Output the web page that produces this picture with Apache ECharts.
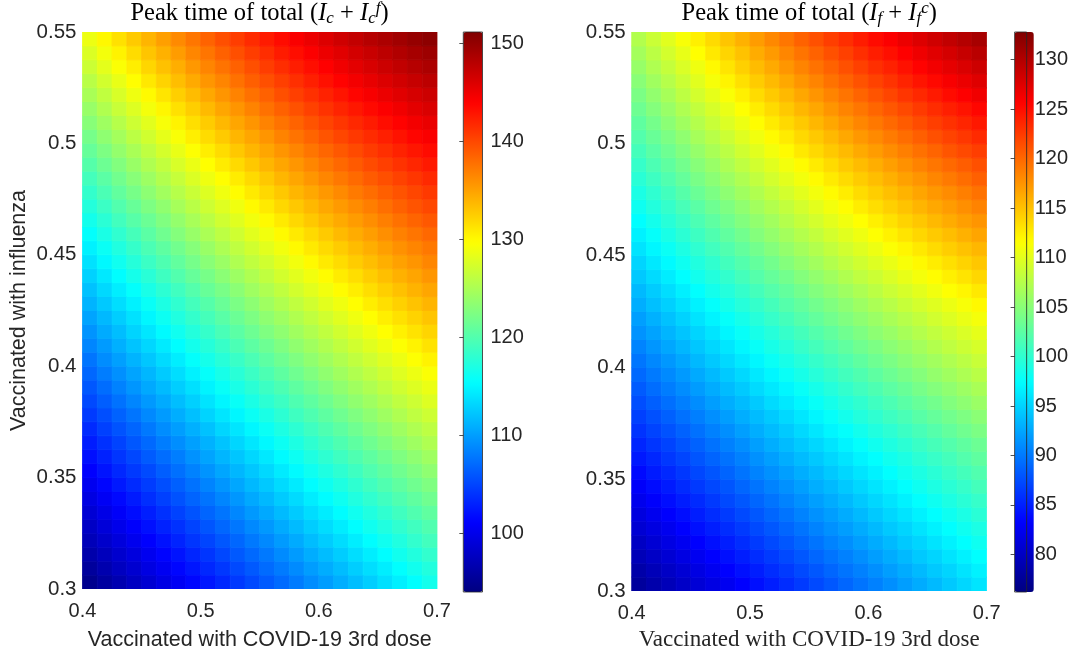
<!DOCTYPE html>
<html>
<head>
<meta charset="utf-8">
<script src="https://cdn.jsdelivr.net/npm/echarts@6/dist/echarts.min.js"></script>
<style>
html,body{margin:0;padding:0;background:#ffffff;}
#chart{width:1071px;height:656px;}
</style>
</head>
<body>
<div id="chart"></div>
<script>
// ---- data (cell centres and values) ----
const xCenters = [0.40625, 0.41875, 0.43125, 0.44375, 0.45625, 0.46875, 0.48125, 0.49375, 0.50625, 0.51875, 0.53125, 0.54375,
                  0.55625, 0.56875, 0.58125, 0.59375, 0.60625, 0.61875, 0.63125, 0.64375, 0.65625, 0.66875, 0.68125, 0.69375];
const yCenters = [0.303125, 0.309375, 0.315625, 0.321875, 0.328125, 0.334375, 0.340625, 0.346875, 0.353125, 0.359375,
                  0.365625, 0.371875, 0.378125, 0.384375, 0.390625, 0.396875, 0.403125, 0.409375, 0.415625, 0.421875,
                  0.428125, 0.434375, 0.440625, 0.446875, 0.453125, 0.459375, 0.465625, 0.471875, 0.478125, 0.484375,
                  0.490625, 0.496875, 0.503125, 0.509375, 0.515625, 0.521875, 0.528125, 0.534375, 0.540625, 0.546875];
const xTicks = [0.4, 0.5, 0.6, 0.7];
const yTicks = [0.3, 0.35, 0.4, 0.45, 0.5, 0.55];
const leftBarTicks = [100, 110, 120, 130, 140, 150];
const rightBarTicks = [80, 85, 90, 95, 100, 105, 110, 115, 120, 125, 130];
const leftRange = [94.0, 151.15];
const rightRange = [76.2, 132.8];

// one array per x column, values from bottom (y=0.3) to top (y=0.55)
const leftValues = [
  [94.8, 95.6, 96.4, 97.2, 97.9, 98.7, 99.5, 100.3, 101.1, 101.9, 102.7, 103.5, 104.4, 105.2, 106.0, 106.9, 107.7, 108.6, 109.4, 110.3, 111.2, 112.0, 112.9, 113.8, 114.7, 115.6, 116.5, 117.4, 118.3, 119.2, 120.2, 121.1, 122.0, 123.0, 123.9, 124.9, 125.8, 126.8, 127.7, 128.7],
  [95.8, 96.6, 97.4, 98.2, 99.0, 99.8, 100.6, 101.4, 102.2, 103.0, 103.8, 104.7, 105.5, 106.4, 107.2, 108.1, 109.0, 109.8, 110.7, 111.5, 112.4, 113.3, 114.2, 115.1, 116.0, 116.9, 117.8, 118.7, 119.6, 120.5, 121.5, 122.4, 123.4, 124.3, 125.3, 126.2, 127.2, 128.2, 129.1, 130.1],
  [96.7, 97.6, 98.4, 99.2, 100.0, 100.8, 101.6, 102.5, 103.3, 104.1, 104.9, 105.8, 106.6, 107.5, 108.4, 109.2, 110.1, 111.0, 111.8, 112.7, 113.6, 114.5, 115.4, 116.3, 117.2, 118.1, 119.1, 120.0, 120.9, 121.8, 122.7, 123.7, 124.6, 125.6, 126.6, 127.5, 128.5, 129.5, 130.4, 131.4],
  [97.7, 98.5, 99.3, 100.2, 101.0, 101.8, 102.6, 103.5, 104.3, 105.1, 106.0, 106.8, 107.7, 108.6, 109.5, 110.3, 111.2, 112.1, 113.0, 113.8, 114.7, 115.6, 116.6, 117.5, 118.4, 119.3, 120.3, 121.2, 122.1, 123.0, 124.0, 124.9, 125.9, 126.9, 127.8, 128.8, 129.8, 130.7, 131.7, 132.7],
  [98.6, 99.5, 100.3, 101.1, 102.0, 102.8, 103.7, 104.5, 105.3, 106.2, 107.0, 107.9, 108.8, 109.7, 110.6, 111.4, 112.3, 113.2, 114.1, 115.0, 115.9, 116.8, 117.7, 118.7, 119.6, 120.5, 121.4, 122.4, 123.3, 124.2, 125.2, 126.1, 127.1, 128.1, 129.1, 130.0, 131.0, 132.0, 133.0, 133.9],
  [99.6, 100.4, 101.3, 102.1, 103.0, 103.8, 104.7, 105.5, 106.4, 107.2, 108.1, 109.0, 109.8, 110.7, 111.6, 112.5, 113.4, 114.3, 115.2, 116.1, 117.0, 117.9, 118.9, 119.8, 120.7, 121.7, 122.6, 123.5, 124.5, 125.4, 126.3, 127.3, 128.3, 129.3, 130.2, 131.2, 132.2, 133.2, 134.1, 135.1],
  [100.5, 101.4, 102.2, 103.1, 103.9, 104.8, 105.7, 106.5, 107.4, 108.2, 109.1, 110.0, 110.9, 111.8, 112.7, 113.6, 114.5, 115.4, 116.3, 117.2, 118.1, 119.0, 120.0, 120.9, 121.8, 122.8, 123.7, 124.7, 125.6, 126.5, 127.5, 128.5, 129.4, 130.4, 131.4, 132.4, 133.4, 134.3, 135.3, 136.3],
  [101.5, 102.3, 103.2, 104.1, 104.9, 105.8, 106.7, 107.5, 108.4, 109.3, 110.1, 111.0, 111.9, 112.8, 113.7, 114.7, 115.6, 116.5, 117.4, 118.3, 119.2, 120.1, 121.1, 122.0, 122.9, 123.9, 124.8, 125.8, 126.7, 127.7, 128.6, 129.6, 130.6, 131.5, 132.5, 133.5, 134.5, 135.5, 136.5, 137.4],
  [102.4, 103.3, 104.1, 105.0, 105.9, 106.8, 107.6, 108.5, 109.4, 110.3, 111.1, 112.0, 113.0, 113.9, 114.8, 115.7, 116.6, 117.5, 118.4, 119.3, 120.2, 121.2, 122.1, 123.1, 124.0, 125.0, 125.9, 126.9, 127.8, 128.8, 129.7, 130.7, 131.7, 132.6, 133.6, 134.6, 135.6, 136.6, 137.5, 138.5],
  [103.3, 104.2, 105.1, 106.0, 106.9, 107.7, 108.6, 109.5, 110.4, 111.3, 112.1, 113.1, 114.0, 114.9, 115.8, 116.7, 117.6, 118.5, 119.5, 120.4, 121.3, 122.2, 123.2, 124.1, 125.1, 126.0, 127.0, 127.9, 128.9, 129.8, 130.8, 131.7, 132.7, 133.7, 134.7, 135.7, 136.6, 137.6, 138.6, 139.6],
  [104.3, 105.2, 106.1, 106.9, 107.8, 108.7, 109.6, 110.5, 111.4, 112.2, 113.1, 114.0, 115.0, 115.9, 116.8, 117.7, 118.6, 119.6, 120.5, 121.4, 122.3, 123.2, 124.2, 125.2, 126.1, 127.0, 128.0, 128.9, 129.9, 130.8, 131.8, 132.8, 133.8, 134.7, 135.7, 136.7, 137.7, 138.6, 139.6, 140.6],
  [105.2, 106.1, 107.0, 107.9, 108.8, 109.7, 110.6, 111.5, 112.3, 113.2, 114.1, 115.0, 116.0, 116.9, 117.8, 118.7, 119.6, 120.6, 121.5, 122.4, 123.3, 124.3, 125.2, 126.2, 127.1, 128.1, 129.0, 130.0, 130.9, 131.8, 132.8, 133.8, 134.7, 135.7, 136.7, 137.7, 138.7, 139.6, 140.6, 141.6],
  [106.2, 107.1, 107.9, 108.8, 109.7, 110.6, 111.5, 112.4, 113.3, 114.2, 115.1, 116.0, 116.9, 117.9, 118.8, 119.7, 120.6, 121.5, 122.5, 123.4, 124.3, 125.2, 126.2, 127.1, 128.1, 129.0, 130.0, 130.9, 131.9, 132.8, 133.8, 134.7, 135.7, 136.7, 137.7, 138.6, 139.6, 140.6, 141.5, 142.5],
  [107.1, 108.0, 108.9, 109.8, 110.7, 111.6, 112.5, 113.4, 114.3, 115.2, 116.1, 117.0, 117.9, 118.8, 119.7, 120.7, 121.6, 122.5, 123.4, 124.3, 125.3, 126.2, 127.2, 128.1, 129.0, 130.0, 130.9, 131.9, 132.8, 133.8, 134.7, 135.7, 136.7, 137.6, 138.6, 139.6, 140.5, 141.5, 142.5, 143.4],
  [108.0, 108.9, 109.8, 110.7, 111.6, 112.5, 113.4, 114.3, 115.2, 116.1, 117.0, 117.9, 118.9, 119.8, 120.7, 121.6, 122.5, 123.5, 124.4, 125.3, 126.2, 127.2, 128.1, 129.0, 130.0, 130.9, 131.9, 132.8, 133.8, 134.7, 135.6, 136.6, 137.6, 138.5, 139.5, 140.5, 141.4, 142.4, 143.3, 144.3],
  [109.0, 109.9, 110.8, 111.7, 112.6, 113.5, 114.4, 115.3, 116.2, 117.1, 118.0, 118.9, 119.8, 120.7, 121.6, 122.6, 123.5, 124.4, 125.3, 126.2, 127.1, 128.1, 129.0, 130.0, 130.9, 131.8, 132.8, 133.7, 134.6, 135.6, 136.5, 137.5, 138.4, 139.4, 140.4, 141.3, 142.3, 143.2, 144.2, 145.1],
  [109.9, 110.8, 111.7, 112.6, 113.5, 114.4, 115.3, 116.2, 117.1, 118.0, 118.9, 119.8, 120.7, 121.6, 122.6, 123.5, 124.4, 125.3, 126.2, 127.1, 128.1, 129.0, 129.9, 130.9, 131.8, 132.7, 133.7, 134.6, 135.5, 136.5, 137.4, 138.3, 139.3, 140.2, 141.2, 142.1, 143.1, 144.0, 145.0, 145.9],
  [110.9, 111.7, 112.6, 113.5, 114.4, 115.3, 116.2, 117.1, 118.0, 118.9, 119.8, 120.7, 121.6, 122.6, 123.5, 124.4, 125.3, 126.2, 127.1, 128.0, 128.9, 129.9, 130.8, 131.7, 132.6, 133.6, 134.5, 135.4, 136.3, 137.3, 138.2, 139.1, 140.1, 141.0, 142.0, 142.9, 143.9, 144.8, 145.7, 146.7],
  [111.8, 112.7, 113.6, 114.5, 115.4, 116.3, 117.2, 118.0, 118.9, 119.8, 120.7, 121.6, 122.5, 123.5, 124.4, 125.3, 126.2, 127.1, 128.0, 128.9, 129.8, 130.7, 131.6, 132.6, 133.5, 134.4, 135.3, 136.2, 137.2, 138.1, 139.0, 139.9, 140.9, 141.8, 142.7, 143.7, 144.6, 145.5, 146.5, 147.4],
  [112.7, 113.6, 114.5, 115.4, 116.3, 117.2, 118.1, 119.0, 119.9, 120.7, 121.6, 122.5, 123.4, 124.3, 125.2, 126.1, 127.0, 128.0, 128.9, 129.8, 130.7, 131.6, 132.5, 133.4, 134.3, 135.2, 136.1, 137.0, 137.9, 138.9, 139.8, 140.7, 141.6, 142.5, 143.5, 144.4, 145.3, 146.2, 147.1, 148.1],
  [113.7, 114.5, 115.4, 116.3, 117.2, 118.1, 119.0, 119.9, 120.8, 121.6, 122.5, 123.4, 124.3, 125.2, 126.1, 127.0, 127.9, 128.8, 129.7, 130.6, 131.5, 132.4, 133.3, 134.2, 135.1, 136.0, 136.9, 137.8, 138.7, 139.6, 140.5, 141.4, 142.3, 143.3, 144.2, 145.1, 146.0, 146.9, 147.8, 148.7],
  [114.6, 115.5, 116.4, 117.2, 118.1, 119.0, 119.9, 120.8, 121.7, 122.5, 123.4, 124.3, 125.2, 126.1, 127.0, 127.9, 128.7, 129.6, 130.5, 131.4, 132.3, 133.2, 134.1, 135.0, 135.9, 136.8, 137.7, 138.6, 139.4, 140.3, 141.2, 142.1, 143.0, 143.9, 144.8, 145.7, 146.6, 147.5, 148.4, 149.3],
  [115.5, 116.4, 117.3, 118.2, 119.0, 119.9, 120.8, 121.7, 122.5, 123.4, 124.3, 125.2, 126.1, 126.9, 127.8, 128.7, 129.6, 130.4, 131.3, 132.2, 133.1, 134.0, 134.8, 135.7, 136.6, 137.5, 138.4, 139.3, 140.1, 141.0, 141.9, 142.8, 143.7, 144.6, 145.5, 146.3, 147.2, 148.1, 149.0, 149.9],
  [116.5, 117.3, 118.2, 119.1, 119.9, 120.8, 121.7, 122.5, 123.4, 124.3, 125.2, 126.0, 126.9, 127.8, 128.6, 129.5, 130.4, 131.3, 132.1, 133.0, 133.9, 134.7, 135.6, 136.5, 137.3, 138.2, 139.1, 140.0, 140.8, 141.7, 142.6, 143.4, 144.3, 145.2, 146.1, 146.9, 147.8, 148.7, 149.5, 150.4]
];
const rightValues = [
  [77.8, 78.5, 79.3, 80.0, 80.8, 81.5, 82.3, 83.0, 83.8, 84.6, 85.3, 86.1, 86.8, 87.6, 88.3, 89.1, 89.8, 90.6, 91.4, 92.1, 92.9, 93.6, 94.4, 95.1, 95.9, 96.7, 97.4, 98.2, 98.9, 99.7, 100.4, 101.2, 102.0, 102.7, 103.5, 104.2, 105.0, 105.8, 106.5, 107.3],
  [78.6, 79.3, 80.1, 80.9, 81.6, 82.4, 83.1, 83.9, 84.7, 85.4, 86.2, 87.0, 87.7, 88.5, 89.3, 90.0, 90.8, 91.6, 92.3, 93.1, 93.9, 94.6, 95.4, 96.2, 97.0, 97.7, 98.5, 99.3, 100.0, 100.8, 101.6, 102.4, 103.2, 103.9, 104.7, 105.5, 106.3, 107.1, 107.8, 108.6],
  [79.4, 80.1, 80.9, 81.7, 82.4, 83.2, 84.0, 84.7, 85.5, 86.3, 87.0, 87.8, 88.6, 89.4, 90.2, 90.9, 91.7, 92.5, 93.3, 94.0, 94.8, 95.6, 96.4, 97.2, 98.0, 98.8, 99.6, 100.3, 101.1, 101.9, 102.7, 103.5, 104.3, 105.1, 105.9, 106.7, 107.5, 108.3, 109.1, 109.9],
  [80.2, 80.9, 81.7, 82.5, 83.3, 84.0, 84.8, 85.6, 86.3, 87.1, 87.9, 88.7, 89.5, 90.3, 91.1, 91.8, 92.6, 93.4, 94.2, 95.0, 95.8, 96.6, 97.4, 98.2, 99.0, 99.8, 100.6, 101.4, 102.2, 103.0, 103.8, 104.6, 105.4, 106.3, 107.1, 107.9, 108.7, 109.5, 110.3, 111.2],
  [81.0, 81.7, 82.5, 83.3, 84.1, 84.9, 85.6, 86.4, 87.2, 88.0, 88.7, 89.5, 90.3, 91.1, 91.9, 92.7, 93.5, 94.3, 95.1, 95.9, 96.7, 97.5, 98.4, 99.2, 100.0, 100.8, 101.6, 102.4, 103.3, 104.1, 104.9, 105.7, 106.6, 107.4, 108.2, 109.1, 109.9, 110.7, 111.6, 112.4],
  [81.7, 82.5, 83.3, 84.1, 84.9, 85.7, 86.4, 87.2, 88.0, 88.8, 89.6, 90.4, 91.2, 92.0, 92.8, 93.6, 94.4, 95.2, 96.0, 96.8, 97.6, 98.5, 99.3, 100.1, 101.0, 101.8, 102.6, 103.5, 104.3, 105.1, 105.9, 106.8, 107.6, 108.5, 109.3, 110.2, 111.1, 111.9, 112.8, 113.6],
  [82.5, 83.3, 84.1, 84.9, 85.7, 86.5, 87.3, 88.0, 88.8, 89.6, 90.4, 91.2, 92.0, 92.9, 93.7, 94.5, 95.3, 96.1, 96.9, 97.7, 98.6, 99.4, 100.2, 101.1, 101.9, 102.8, 103.6, 104.4, 105.3, 106.1, 107.0, 107.8, 108.7, 109.6, 110.4, 111.3, 112.2, 113.0, 113.9, 114.8],
  [83.3, 84.1, 84.9, 85.7, 86.5, 87.3, 88.1, 88.9, 89.7, 90.4, 91.2, 92.1, 92.9, 93.7, 94.5, 95.3, 96.2, 97.0, 97.8, 98.6, 99.5, 100.3, 101.2, 102.0, 102.9, 103.7, 104.6, 105.4, 106.3, 107.1, 108.0, 108.9, 109.8, 110.6, 111.5, 112.4, 113.3, 114.2, 115.0, 115.9],
  [84.1, 84.9, 85.7, 86.5, 87.3, 88.1, 88.9, 89.7, 90.5, 91.3, 92.1, 92.9, 93.7, 94.5, 95.4, 96.2, 97.0, 97.8, 98.7, 99.5, 100.3, 101.2, 102.1, 102.9, 103.8, 104.7, 105.5, 106.4, 107.2, 108.1, 109.0, 109.9, 110.8, 111.7, 112.6, 113.5, 114.4, 115.3, 116.2, 117.1],
  [84.9, 85.7, 86.5, 87.3, 88.1, 88.9, 89.7, 90.5, 91.3, 92.1, 92.9, 93.7, 94.5, 95.4, 96.2, 97.0, 97.9, 98.7, 99.5, 100.4, 101.2, 102.1, 103.0, 103.8, 104.7, 105.6, 106.4, 107.3, 108.2, 109.1, 109.9, 110.9, 111.8, 112.7, 113.6, 114.5, 115.4, 116.3, 117.2, 118.2],
  [85.7, 86.5, 87.3, 88.1, 88.9, 89.7, 90.5, 91.3, 92.1, 92.9, 93.7, 94.5, 95.3, 96.2, 97.0, 97.9, 98.7, 99.5, 100.4, 101.2, 102.1, 102.9, 103.8, 104.7, 105.6, 106.5, 107.4, 108.2, 109.1, 110.0, 110.9, 111.8, 112.7, 113.7, 114.6, 115.5, 116.4, 117.4, 118.3, 119.2],
  [86.5, 87.3, 88.1, 88.9, 89.7, 90.5, 91.3, 92.1, 92.9, 93.7, 94.5, 95.3, 96.1, 97.0, 97.8, 98.7, 99.5, 100.4, 101.2, 102.1, 102.9, 103.8, 104.7, 105.6, 106.5, 107.4, 108.3, 109.1, 110.0, 110.9, 111.8, 112.8, 113.7, 114.6, 115.6, 116.5, 117.5, 118.4, 119.3, 120.3],
  [87.3, 88.1, 88.9, 89.7, 90.5, 91.3, 92.1, 92.9, 93.6, 94.4, 95.2, 96.1, 96.9, 97.8, 98.6, 99.5, 100.3, 101.2, 102.0, 102.9, 103.7, 104.6, 105.5, 106.4, 107.3, 108.2, 109.1, 110.0, 110.9, 111.8, 112.7, 113.7, 114.6, 115.6, 116.5, 117.5, 118.4, 119.4, 120.3, 121.3],
  [88.1, 88.9, 89.7, 90.5, 91.3, 92.0, 92.8, 93.6, 94.4, 95.2, 96.0, 96.9, 97.7, 98.6, 99.4, 100.3, 101.1, 102.0, 102.8, 103.7, 104.5, 105.4, 106.3, 107.3, 108.2, 109.1, 110.0, 110.9, 111.8, 112.7, 113.6, 114.6, 115.5, 116.5, 117.5, 118.4, 119.4, 120.3, 121.3, 122.3],
  [88.9, 89.7, 90.4, 91.2, 92.0, 92.8, 93.6, 94.4, 95.2, 96.0, 96.8, 97.6, 98.5, 99.4, 100.2, 101.1, 101.9, 102.8, 103.6, 104.5, 105.3, 106.2, 107.2, 108.1, 109.0, 109.9, 110.8, 111.7, 112.6, 113.6, 114.5, 115.4, 116.4, 117.4, 118.4, 119.3, 120.3, 121.3, 122.2, 123.2],
  [89.7, 90.4, 91.2, 92.0, 92.8, 93.6, 94.4, 95.2, 96.0, 96.8, 97.6, 98.4, 99.3, 100.1, 101.0, 101.8, 102.7, 103.6, 104.4, 105.3, 106.1, 107.0, 108.0, 108.9, 109.8, 110.7, 111.6, 112.6, 113.5, 114.4, 115.3, 116.3, 117.3, 118.3, 119.2, 120.2, 121.2, 122.2, 123.2, 124.2],
  [90.4, 91.2, 92.0, 92.8, 93.6, 94.4, 95.2, 96.0, 96.7, 97.5, 98.3, 99.2, 100.0, 100.9, 101.7, 102.6, 103.5, 104.3, 105.2, 106.0, 106.9, 107.8, 108.7, 109.7, 110.6, 111.5, 112.4, 113.4, 114.3, 115.2, 116.1, 117.1, 118.1, 119.1, 120.1, 121.1, 122.1, 123.1, 124.1, 125.1],
  [91.2, 92.0, 92.8, 93.6, 94.4, 95.2, 95.9, 96.7, 97.5, 98.3, 99.1, 99.9, 100.8, 101.6, 102.5, 103.4, 104.2, 105.1, 105.9, 106.8, 107.6, 108.6, 109.5, 110.4, 111.4, 112.3, 113.2, 114.2, 115.1, 116.0, 116.9, 117.9, 118.9, 119.9, 120.9, 121.9, 122.9, 123.9, 124.9, 125.9],
  [92.0, 92.8, 93.6, 94.4, 95.1, 95.9, 96.7, 97.5, 98.3, 99.0, 99.8, 100.7, 101.5, 102.4, 103.2, 104.1, 105.0, 105.8, 106.7, 107.5, 108.4, 109.3, 110.3, 111.2, 112.1, 113.1, 114.0, 114.9, 115.8, 116.8, 117.7, 118.7, 119.7, 120.7, 121.7, 122.8, 123.8, 124.8, 125.8, 126.8],
  [92.8, 93.6, 94.4, 95.1, 95.9, 96.7, 97.5, 98.2, 99.0, 99.8, 100.6, 101.4, 102.3, 103.1, 104.0, 104.8, 105.7, 106.5, 107.4, 108.2, 109.1, 110.0, 111.0, 111.9, 112.8, 113.8, 114.7, 115.7, 116.6, 117.5, 118.5, 119.5, 120.5, 121.5, 122.5, 123.5, 124.6, 125.6, 126.6, 127.6],
  [93.6, 94.4, 95.1, 95.9, 96.7, 97.4, 98.2, 99.0, 99.7, 100.5, 101.3, 102.1, 103.0, 103.8, 104.7, 105.6, 106.4, 107.3, 108.1, 109.0, 109.8, 110.8, 111.7, 112.6, 113.6, 114.5, 115.5, 116.4, 117.3, 118.3, 119.2, 120.2, 121.3, 122.3, 123.3, 124.3, 125.3, 126.4, 127.4, 128.4],
  [94.4, 95.1, 95.9, 96.7, 97.4, 98.2, 99.0, 99.7, 100.5, 101.2, 102.0, 102.9, 103.7, 104.6, 105.4, 106.3, 107.1, 108.0, 108.8, 109.7, 110.5, 111.5, 112.4, 113.3, 114.3, 115.2, 116.2, 117.1, 118.0, 119.0, 119.9, 121.0, 122.0, 123.0, 124.0, 125.1, 126.1, 127.1, 128.1, 129.2],
  [95.2, 95.9, 96.7, 97.4, 98.2, 98.9, 99.7, 100.4, 101.2, 102.0, 102.7, 103.6, 104.4, 105.3, 106.1, 107.0, 107.8, 108.7, 109.5, 110.4, 111.2, 112.1, 113.1, 114.0, 115.0, 115.9, 116.9, 117.8, 118.7, 119.7, 120.6, 121.7, 122.7, 123.7, 124.7, 125.8, 126.8, 127.8, 128.9, 129.9],
  [96.0, 96.7, 97.4, 98.2, 98.9, 99.7, 100.4, 101.2, 101.9, 102.7, 103.4, 104.3, 105.1, 106.0, 106.8, 107.7, 108.5, 109.3, 110.2, 111.0, 111.9, 112.8, 113.8, 114.7, 115.6, 116.6, 117.5, 118.5, 119.4, 120.4, 121.3, 122.3, 123.4, 124.4, 125.4, 126.5, 127.5, 128.5, 129.6, 130.6]
];

// ---- styling ----
const jet = ['#000080', '#0000ff', '#0080ff', '#00ffff', '#80ff80', '#ffff00', '#ff8000', '#ff0000', '#800000'];
const CELL_W = 0.0125, CELL_H = 0.00625;
const SANS = 'Liberation Sans, Arial, sans-serif';
const SERIF = 'Liberation Serif, Times New Roman, serif';
const AX = '#262626';

function buildData(values) {
  const out = [];
  for (let i = 0; i < xCenters.length; i++) {
    for (let j = 0; j < yCenters.length; j++) {
      out.push([xCenters[i], yCenters[j], values[i][j]]);
    }
  }
  return out;
}

function renderCell(params, api) {
  const x = api.value(0), y = api.value(1);
  const p0 = api.coord([x - CELL_W / 2, y + CELL_H / 2]);
  const p1 = api.coord([x + CELL_W / 2, y - CELL_H / 2]);
  const c = api.visual('color');
  return {
    type: 'rect',
    shape: { x: p0[0], y: p0[1], width: p1[0] - p0[0], height: p1[1] - p0[1] },
    style: { fill: c, stroke: c, lineWidth: 0.8 }
  };
}

const grids = [
  { left: 82.5, top: 32, width: 354.5, height: 560 },
  { left: 631.7, top: 32, width: 355, height: 560 },
  { left: 463.3, top: 32, width: 19.2, height: 560, show: true, borderColor: AX, borderWidth: 0.8, backgroundColor: 'rgba(0,0,0,0)', z: 10 },
  { left: 1014.6, top: 32, width: 19.2, height: 560, show: true, borderColor: AX, borderWidth: 0.8, backgroundColor: 'rgba(0,0,0,0)', z: 10 }
];

function mainX(gridIndex, nameFont, nameGap) {
  return {
    type: 'value', gridIndex, min: 0.4, max: 0.7,
    name: 'Vaccinated with COVID-19 3rd dose', nameLocation: 'middle', nameGap,
    nameTextStyle: { fontFamily: nameFont.family, fontSize: nameFont.size, color: AX },
    axisLine: { show: false }, axisTick: { show: false }, splitLine: { show: false },
    axisLabel: { customValues: xTicks, fontFamily: SANS, fontSize: 20, color: AX, margin: 12 }
  };
}
function mainY(gridIndex, name) {
  return {
    type: 'value', gridIndex, min: 0.3, max: 0.55,
    name, nameLocation: 'middle', nameGap: 52,
    nameTextStyle: { fontFamily: SANS, fontSize: 21.5, color: AX },
    axisLine: { show: false }, axisTick: { show: false }, splitLine: { show: false },
    axisLabel: { customValues: yTicks, fontFamily: SANS, fontSize: 20.5, color: AX, margin: 6 }
  };
}
function barX(gridIndex) {
  return { type: 'value', gridIndex, min: 0, max: 1, show: false };
}
function barY(gridIndex, range, ticks) {
  return {
    type: 'value', gridIndex, min: range[0], max: range[1], position: 'right', z: 12,
    axisLine: { show: false }, splitLine: { show: false },
    axisTick: { show: true, inside: true, length: 4, customValues: ticks, lineStyle: { color: AX, width: 0.8 } },
    axisLabel: { customValues: ticks, fontFamily: SANS, fontSize: 20, color: AX, margin: 8 }
  };
}

const titleRich = {
  r: { fontFamily: SERIF, fontSize: 24.5, lineHeight: 27, color: '#000' },
  i: { fontFamily: SERIF, fontStyle: 'italic', fontSize: 24.5, lineHeight: 27, color: '#000' },
  s: { fontFamily: SERIF, fontStyle: 'italic', fontSize: 17, lineHeight: 13, verticalAlign: 'bottom', color: '#000' },
  p: { fontFamily: SERIF, fontStyle: 'italic', fontSize: 17, lineHeight: 13, verticalAlign: 'top', color: '#000' }
};

const option = {
  backgroundColor: '#ffffff',
  animation: false,
  grid: grids,
  xAxis: [mainX(0, { family: SANS, size: 21.5 }, 40), mainX(1, { family: SERIF, size: 23 }, 35), barX(2), barX(3)],
  yAxis: [mainY(0, 'Vaccinated with influenza'), mainY(1, ''), barY(2, leftRange, leftBarTicks), barY(3, rightRange, rightBarTicks)],
  visualMap: [
    { type: 'continuous', seriesIndex: 0, dimension: 2, min: leftRange[0], max: leftRange[1],
      inRange: { color: jet }, calculable: false, left: 463.3, top: 32, itemWidth: 19.2, itemHeight: 560, padding: 0, text: null, hoverLink: false },
    { type: 'continuous', seriesIndex: 1, dimension: 2, min: rightRange[0], max: rightRange[1],
      inRange: { color: jet }, calculable: false, left: 1014.6, top: 32, itemWidth: 19.2, itemHeight: 560, padding: 0, text: null, hoverLink: false }
  ],
  series: [
    { type: 'custom', xAxisIndex: 0, yAxisIndex: 0, data: buildData(leftValues), renderItem: renderCell, clip: true, silent: true, encode: { x: 0, y: 1 } },
    { type: 'custom', xAxisIndex: 1, yAxisIndex: 1, data: buildData(rightValues), renderItem: renderCell, clip: true, silent: true, encode: { x: 0, y: 1 } }
  ],
  graphic: [
    { type: 'text', x: 259.5, y: 14, z: 20, style: { text: '{r|Peak time of total (}{i|I}{s|c}{r| + }{i|I}{s|c}{p|f}{r|)}', rich: titleRich, align: 'center', verticalAlign: 'middle' } },
    { type: 'text', x: 809.2, y: 14, z: 20, style: { text: '{r|Peak time of total (}{i|I}{s|f}{r| + }{i|I}{s|f}{p|c}{r|)}', rich: titleRich, align: 'center', verticalAlign: 'middle' } }
  ]
};

const chart = echarts.init(document.getElementById('chart'), null, { renderer: 'canvas' });
chart.setOption(option);
</script>
</body>
</html>
